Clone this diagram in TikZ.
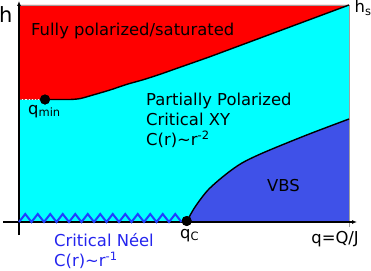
\documentclass[tikz,border=0pt]{standalone}
\usepackage{fontspec}
\setmainfont{DejaVu Sans}
\usetikzlibrary{arrows.meta}
\definecolor{fullred}{HTML}{FF0000}
\definecolor{xycyan}{HTML}{00FFFF}
\definecolor{vbsblue}{HTML}{3F51E8}
\definecolor{zigblue}{HTML}{1F3FFF}
\definecolor{neeltext}{HTML}{2424EE}
\definecolor{framegray}{HTML}{A0A0A0}
\begin{document}
\begin{tikzpicture}[x=1pt,y=-1pt,
  font=\fontsize{16.4}{20}\selectfont,
  lbl/.style={anchor=base west, inner sep=0pt},
  lble/.style={anchor=base east, inner sep=0pt},
  dot/.style={circle, fill=black, inner sep=0pt, minimum size=10pt},
  bound/.style={black, line width=1.4pt},
  axisline/.style={black, line width=1.8pt, -{Latex[length=5pt,width=4pt]}},
  zig/.style={zigblue, line width=2pt, line join=miter},
  framel/.style={framegray, line width=0.9pt}]
\useasboundingbox (0,0) rectangle (371,270);
% regions
\fill[xycyan] (19,5) rectangle (349,222);
\fill[fullred] (19,5) -- (349,5) -- (210,56.7)
  -- plot[smooth] coordinates {(210,56.7) (193,62.7) (177,68.3) (160,74.3) (143,79.8) (127,84.3) (110,90) (93,95) (80,98.6) (70,99.5)}
  -- (19,99.5) -- cycle;
\fill[vbsblue] (187,221)
  -- plot[smooth] coordinates {(187,221) (195,207) (208,190) (225,175) (242,163) (265,152) (308,134.5) (349,119)}
  -- (349,222) -- cycle;
% frame
\coordinate (hs) at (349,5);
\draw[framel] (19,5) -- (hs) -- (349,227);
% dots
\node[dot] (qmin) at (45,99.5) {};
\node[dot] (qc) at (186.7,221) {};
% boundaries
\draw[white, line width=1.2pt, dotted] (19,99.5) -- (qmin.west);
\draw[bound] (qmin.center) -- (70,99.5)
  -- plot[smooth] coordinates {(70,99.5) (80,98.6) (93,95) (110,90) (127,84.3) (143,79.8) (160,74.3) (177,68.3) (193,62.7) (210,56.7)}
  -- (hs);
\draw[bound] (qc.center)
  -- plot[smooth] coordinates {(187,221) (195,207) (208,190) (225,175) (242,163) (265,152) (308,134.5) (349,119)};
% axes
\coordinate (xstart) at (3,222);
\coordinate (xend) at (357,222);
\coordinate (ystart) at (19,235);
\coordinate (yend) at (19,1);
\draw[axisline] (xstart) -- (xend);
\draw[axisline] (ystart) -- (yend);
% zigzag (critical Neel line)
\draw[zig] (19,222) \foreach \i in {0,...,12} { -- ({19+12.5*\i+6.25},214) -- ({19+12.5*(\i+1)},222) };
% dots on top
\node[dot] at (qmin) {};
\node[dot] at (qc) {};
% labels
\node[lbl, font=\fontsize{21}{21}\selectfont] (hlab) at (-1,23) {h};
\node[lbl] (hslab) at (354.5,13) {h\textsubscript{s}};
\node[lbl] (full) at (31,35) {Fully polarized/saturated};
\node[lbl] (qminlab) at (28,114) {q\textsubscript{min}};
\node[lbl] (pp1) at (146,105) {Partially Polarized};
\node[lbl] (pp2) at (146,125.7) {Critical XY};
\node[lbl] (pp3) at (146,145.7) {C(r)\textasciitilde r\textsuperscript{-2}};
\node[lbl] (vbs) at (267,191) {VBS};
\node[lbl] (qclab) at (180,238) {q\textsubscript{C}};
\node[lble] (qaxis) at (359,243) {q=Q/J};
\node[lbl, text=neeltext] (neel1) at (54,246.7) {Critical Néel};
\node[lbl, text=neeltext] (neel2) at (54,266.7) {C(r)\textasciitilde r\textsuperscript{-1}};
\end{tikzpicture}
\end{document}
